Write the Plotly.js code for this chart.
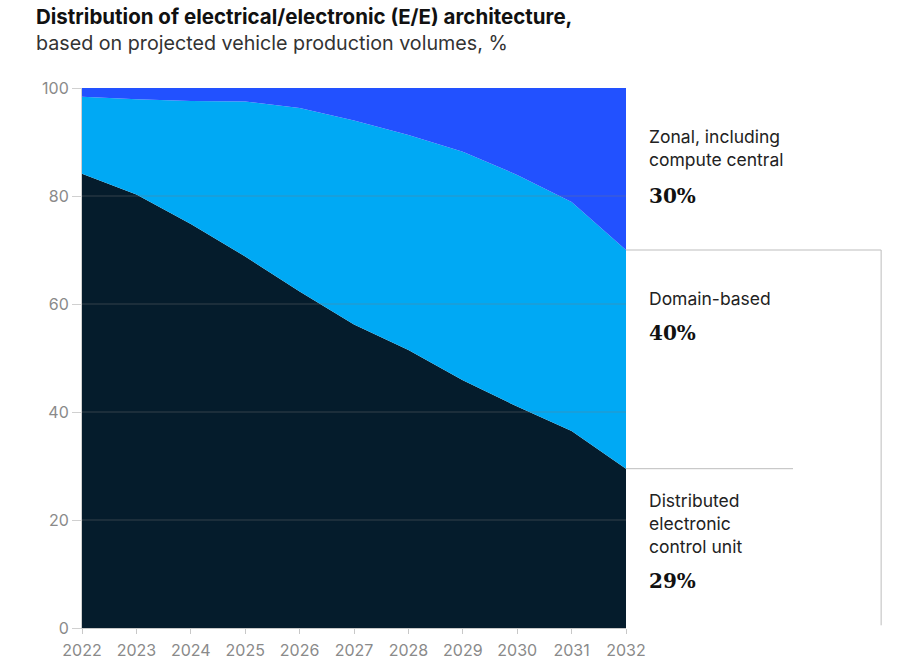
<!DOCTYPE html>
<html>
<head>
<meta charset="utf-8">
<script src="https://cdn.plot.ly/plotly-3.0.1.min.js"></script>
<style>
  html, body { margin: 0; padding: 0; background: #fff; }
  #chart { width: 902px; height: 671px; }
</style>
</head>
<body>
<div id="chart"></div>
<script>
// chart values (% of production volume)
var years = [2022, 2023, 2024, 2025, 2026, 2027, 2028, 2029, 2030, 2031, 2032];
var distributed = [84.1, 80.3, 74.8, 68.8, 62.3, 56.2, 51.5, 45.9, 41.0, 36.5, 29.5];
var domain = [14.3, 17.6, 22.8, 28.7, 34.0, 37.8, 39.8, 42.3, 42.9, 42.4, 40.5];
var zonal = [1.6, 2.1, 2.4, 2.5, 3.7, 6.0, 8.7, 11.8, 16.1, 21.1, 30.0];
var yTicks = [0, 20, 40, 60, 80, 100];
// 2032 shares as printed on the chart
var shareLabels = ["29%", "40%", "30%"];

var seriesNames = ["Distributed electronic control unit", "Domain-based", "Zonal, including compute central"];
var colors = ["#051C2C", "#00A9F4", "#2251FF"];

var fontName = "Inter, 'Liberation Sans', sans-serif";

var last = years.length - 1;
var distEnd = distributed[last];
var domainTopEnd = distributed[last] + domain[last];

function areaTrace(name, vals, color) {
    return {
        type: "scatter",
        mode: "lines",
        x: years,
        y: vals,
        name: name,
        stackgroup: "one",
        line: {width: 0, color: color},
        fillcolor: color,
        hoverinfo: "skip"
    };
}

var data = [
    areaTrace(seriesNames[0], distributed, colors[0]),
    areaTrace(seriesNames[1], domain, colors[1]),
    areaTrace(seriesNames[2], zonal, colors[2])
];

// helper for text on the right side
function sideText(txt, y, serif) {
    return {
        xref: "paper", yref: "paper",
        x: 1.039, y: y,
        xanchor: "left", yanchor: "middle", align: "left",
        text: txt, showarrow: false,
        font: serif ? {family: "'DejaVu Serif', 'Liberation Serif', serif", size: 20, color: "#111"}
                    : {family: fontName, size: 17.5, color: "#222"}
    };
}

// gridlines drawn over the areas, like in the original
var shapes = [];
yTicks.forEach(function (t) {
    if (t > 0 && t < 100) {
        shapes.push({type: "line", xref: "paper", yref: "y", x0: 0, x1: 1, y0: t, y1: t,
                     layer: "above", line: {color: "rgba(120,120,120,0.4)", width: 1}});
    }
});
// bracket lines at the right
shapes.push({type: "line", xref: "paper", yref: "y", x0: 1, x1: 1.469, y0: domainTopEnd, y1: domainTopEnd,
             line: {color: "#bdbdbd", width: 1}});
shapes.push({type: "line", xref: "paper", yref: "y", x0: 1.469, x1: 1.469, y0: domainTopEnd, y1: 0.5,
             line: {color: "#bdbdbd", width: 1}});
shapes.push({type: "line", xref: "paper", yref: "y", x0: 1, x1: 1.307, y0: distEnd, y1: distEnd,
             line: {color: "#bdbdbd", width: 1}});

var layout = {
    width: 902,
    height: 671,
    margin: {t: 88, b: 43, l: 82, r: 276},
    paper_bgcolor: "#fff",
    plot_bgcolor: "#fff",
    showlegend: false,
    hovermode: false,
    font: {family: fontName},
    xaxis: {
        range: [years[0], years[last]],
        tickmode: "array",
        tickvals: years,
        ticks: "outside",
        ticklen: 5,
        tickcolor: "#c8c8c8",
        tickfont: {size: 16, color: "#8a8a8a"},
        ticklabelstandoff: 3,
        showgrid: false,
        zeroline: false,
        showline: true,
        linecolor: "#c8c8c8",
        linewidth: 1,
        layer: "above traces",
        fixedrange: true
    },
    yaxis: {
        range: [0, 100],
        tickmode: "array",
        tickvals: yTicks,
        ticks: "outside",
        ticklen: 9,
        tickcolor: "#d0d0d0",
        tickfont: {size: 16, color: "#8a8a8a"},
        showgrid: false,
        zeroline: false,
        showline: true,
        linecolor: "#d0d0d0",
        layer: "above traces",
        fixedrange: true
    },
    shapes: shapes,
    annotations: [
        {xref: "paper", yref: "paper", x: -0.0882, y: 1.1315, xanchor: "left", yanchor: "middle",
         text: "<b>Distribution of electrical/electronic (E/E) architecture,</b>", showarrow: false,
         font: {family: fontName, size: 20.5, color: "#111"}},
        {xref: "paper", yref: "paper", x: -0.0882, y: 1.0833, xanchor: "left", yanchor: "middle",
         text: "based on projected vehicle production volumes, %", showarrow: false,
         font: {family: fontName, size: 19.7, color: "#333"}},
        sideText("Zonal, including<br>compute central", 0.888, false),
        sideText("<b>" + shareLabels[2] + "</b>", 0.80, true),
        sideText("Domain-based", 0.611, false),
        sideText("<b>" + shareLabels[1] + "</b>", 0.546, true),
        sideText("Distributed<br>electronic<br>control unit", 0.1926, false),
        sideText("<b>" + shareLabels[0] + "</b>", 0.087, true)
    ]
};

Plotly.newPlot("chart", data, layout, {displayModeBar: false, staticPlot: true});
</script>
</body>
</html>
